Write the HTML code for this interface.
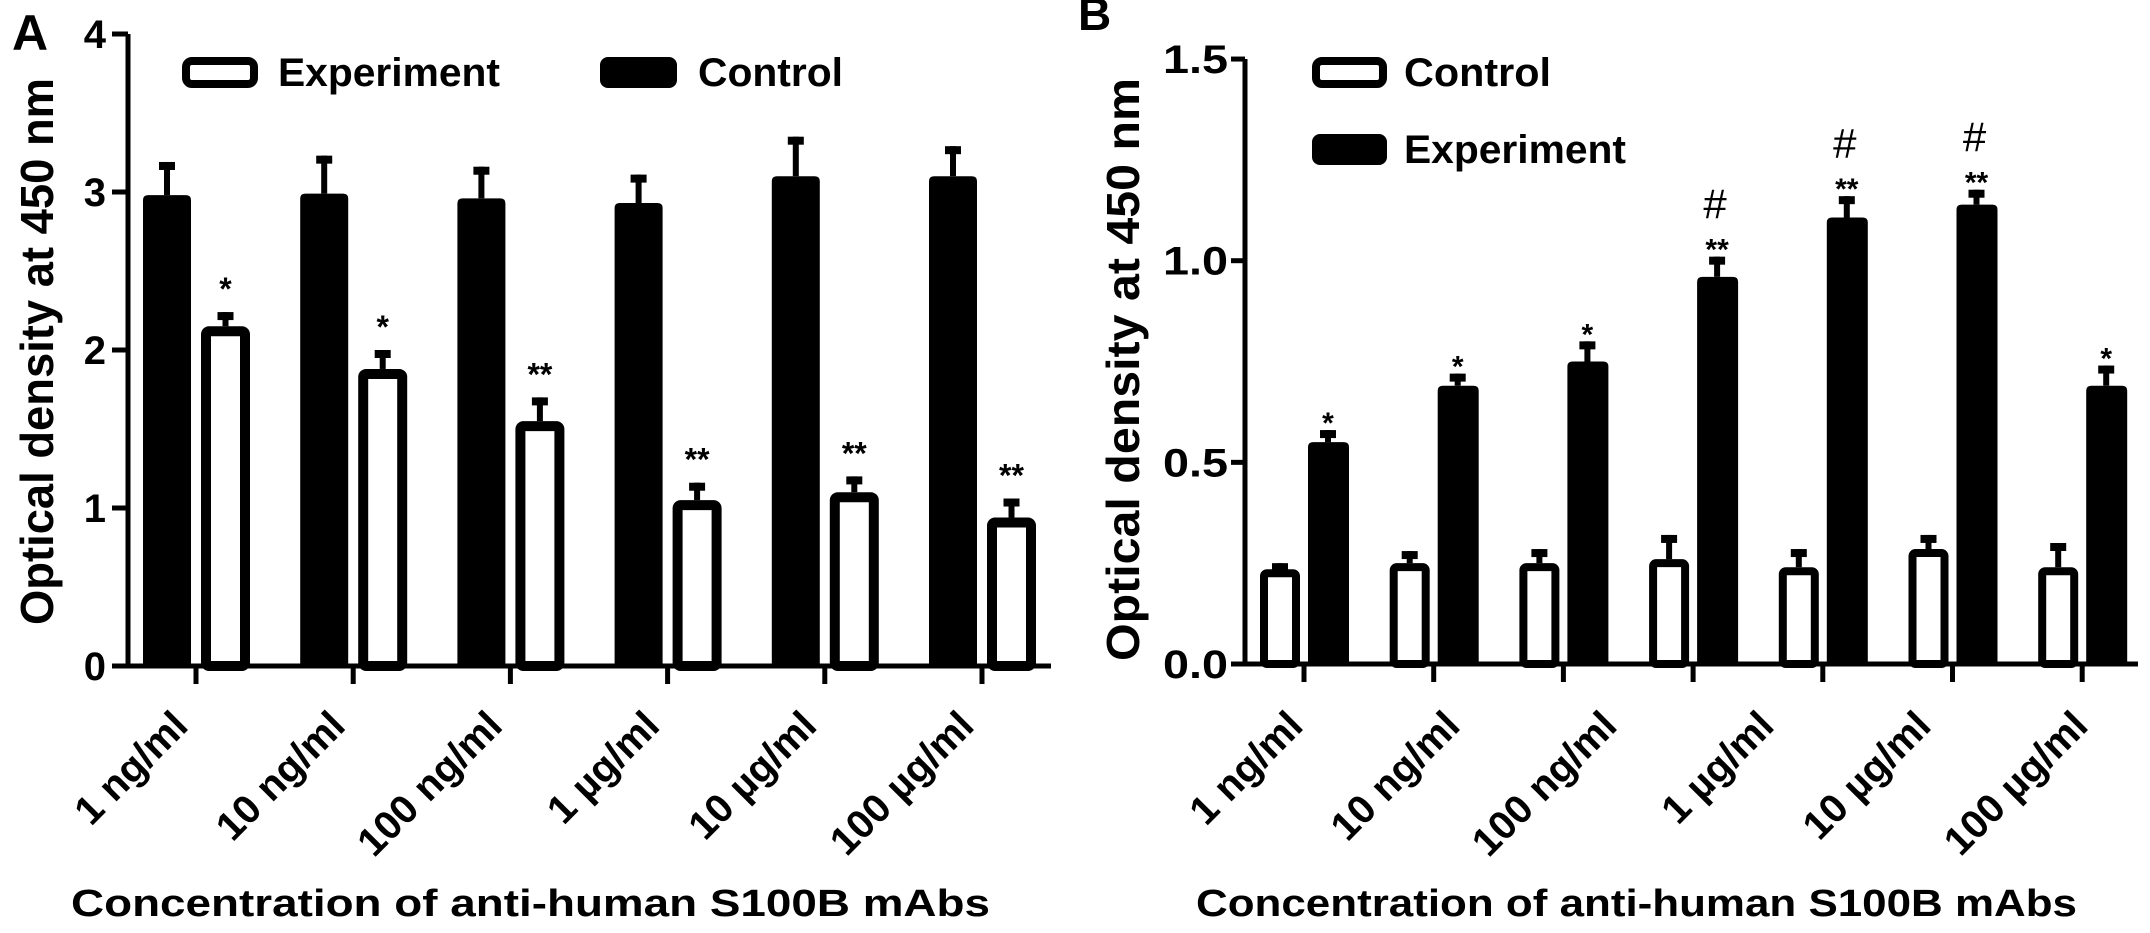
<!DOCTYPE html>
<html><head><meta charset="utf-8">
<style>
html,body{margin:0;padding:0;background:#fff;}
svg{display:block;font-family:"Liberation Sans",Arial,sans-serif;}
</style></head>
<body>
<svg id="fig" width="2150" height="933" viewBox="0 0 2150 933" xmlns="http://www.w3.org/2000/svg"></svg>
<script>
const NS="http://www.w3.org/2000/svg";
// Panel A data
const catsA=["1 ng/ml","10 ng/ml","100 ng/ml","1 µg/ml","10 µg/ml","100 µg/ml"];
const ctrlA=[2.98,2.99,2.96,2.93,3.10,3.10];
const ctrlErrA=[3.19,3.23,3.16,3.11,3.35,3.29];
const expA=[2.15,1.88,1.55,1.05,1.10,0.94];
const expErrA=[2.24,2.00,1.70,1.16,1.20,1.06];
const sigA=["*","*","**","**","**","**"];
const ticksA=[0,1,2,3,4];
const tickLabA=["0","1","2","3","4"];
// Panel B data
const catsB=["1 ng/ml","10 ng/ml","100 ng/ml","1 µg/ml","10 µg/ml","100 µg/ml"];
const ctrlB=[0.235,0.25,0.25,0.26,0.24,0.285,0.24];
const ctrlErrB=[0.25,0.28,0.285,0.32,0.285,0.32,0.30];
const expB=[0.55,0.69,0.75,0.96,1.107,1.139,0.69];
const expErrB=[0.58,0.72,0.80,1.01,1.16,1.176,0.74];
const sigB=["*","*","*","**","**","**","*"];
const hashB=["","","","#","#","#",""];
const ticksB=[0,0.5,1,1.5];
const tickLabB=["0.0","0.5","1.0","1.5"];

const svg=document.getElementById('fig');
function el(tag,attrs,parent){const e=document.createElementNS(NS,tag);for(const k in attrs)e.setAttribute(k,attrs[k]);(parent||svg).appendChild(e);return e;}
function txt(s,attrs,parent){const e=el('text',attrs,parent);e.textContent=s;return e;}

// axis functions
const A={x0:128,y0:666,unit:158,gx0:196,pitch:157.2,xEnd:1051};
const B={x0:1245,y0:664,unit:403.3,gx0:1304,pitch:129.7,xEnd:2138};
function yA(v){return A.y0-v*A.unit;}
function xA(i){return A.gx0+i*A.pitch;}
function yB(v){return B.y0-v*B.unit;}
function xB(i){return B.gx0+i*B.pitch;}

function errBar(g,cx,top,capY,name){
  const s=el('rect',{x:cx-3,y:capY,width:6,height:Math.max(0,top-capY)},g);
  
  const c=el('rect',{x:cx-8,y:capY,width:16,height:8,fill:'#000'},g);
  
}
function solidBar(g,x,w,y0,y,name){
  const r=el('path',{d:`M${x},${y0} L${x},${y+5} Q${x},${y} ${x+5},${y} L${x+w-5},${y} Q${x+w},${y} ${x+w},${y+5} L${x+w},${y0} Z`,fill:'#000'},g);
  
}
function hollowBar(g,x,w,y0,y,sw,name){
  const r=el('rect',{x:x+sw/2,y:y+sw/2,width:w-sw,height:y0-y-sw/2,fill:'#fff',stroke:'#000','stroke-width':sw,rx:3},g);
  
}

/* ---------- Panel A ---------- */
const gA=el('g',{});

const labA=txt('A',{x:12,y:50,'font-size':50,'font-weight':'bold'},gA);

const ytA=txt('Optical density at 450 nm',{x:0,y:0,'font-size':46,'font-weight':'bold',transform:'translate(53,625) rotate(-90)',textLength:547,lengthAdjust:'spacingAndGlyphs'},gA);

for(let i=0;i<catsA.length;i++){
  const cx=xA(i);
  errBar(gA,cx-29,yA(ctrlA[i]),yA(ctrlErrA[i]),'control-error-a-'+i);
  solidBar(gA,cx-53,48,A.y0,yA(ctrlA[i]),'bar-control-a-'+i);
  errBar(gA,cx+29.5,yA(expA[i]),yA(expErrA[i]),'experiment-error-a-'+i);
  hollowBar(gA,cx+5,49,A.y0,yA(expA[i]),10,'bar-experiment-a-'+i);
  const s=txt(sigA[i],{x:cx+29.5,y:yA(expErrA[i])-12,'font-size':32,'font-weight':'bold','text-anchor':'middle'},gA);
  
  const t=el('line',{x1:cx,y1:A.y0,x2:cx,y2:A.y0+18,stroke:'#000','stroke-width':5},gA);
  
  const l=txt(catsA[i],{x:0,y:0,'font-size':40,'font-weight':'bold','text-anchor':'end',transform:`translate(${cx-6},${728}) rotate(-45)`},gA);
  
}
const axA=el('path',{d:`M${A.x0},${yA(4)} L${A.x0},${A.y0} L${A.xEnd},${A.y0}`,fill:'none',stroke:'#000','stroke-width':5},gA);

for(let i=0;i<ticksA.length;i++){
  const y=yA(ticksA[i]);
  const t=el('line',{x1:A.x0-16,y1:y,x2:A.x0,y2:y,stroke:'#000','stroke-width':5},gA);
  
  const l=txt(tickLabA[i],{x:106,y:y+14,'font-size':40,'font-weight':'bold','text-anchor':'end'},gA);
  
}
const lgA1=el('rect',{x:186,y:61,width:68,height:23,rx:6,fill:'#fff',stroke:'#000','stroke-width':8},gA);

const lgA1t=txt('Experiment',{x:278,y:86,'font-size':40,'font-weight':'bold',textLength:222,lengthAdjust:'spacingAndGlyphs'},gA);

const lgA2=el('rect',{x:600,y:57,width:77,height:31,rx:8,fill:'#000'},gA);

const lgA2t=txt('Control',{x:698,y:86,'font-size':40,'font-weight':'bold',textLength:145,lengthAdjust:'spacingAndGlyphs'},gA);

const xtA=txt('Concentration of  anti-human S100B mAbs',{x:71,y:916,'font-size':38,'font-weight':'bold',textLength:919,lengthAdjust:'spacingAndGlyphs'},gA);


/* ---------- Panel B ---------- */
const gB=el('g',{});

const labB=txt('B',{x:1078,y:30,'font-size':46,'font-weight':'bold'},gB);

const ytB=txt('Optical density at 450 nm',{x:0,y:0,'font-size':46,'font-weight':'bold',transform:'translate(1139,661) rotate(-90)',textLength:583,lengthAdjust:'spacingAndGlyphs'},gB);

for(let i=0;i<ctrlB.length;i++){
  const cx=xB(i);
  errBar(gB,cx-24,yB(ctrlB[i]),yB(ctrlErrB[i]),'control-error-b-'+i);
  hollowBar(gB,cx-44,40,B.y0,yB(ctrlB[i]),8,'bar-control-b-'+i);
  errBar(gB,cx+24,yB(expB[i]),yB(expErrB[i]),'experiment-error-b-'+i);
  solidBar(gB,cx+4,41,B.y0,yB(expB[i]),'bar-experiment-b-'+i);
  const s=txt(sigB[i],{x:cx+24,y:yB(expErrB[i])+3,'font-size':30,'font-weight':'bold','text-anchor':'middle'},gB);
  
  if(hashB[i]){
    const h=txt(hashB[i],{x:cx+22,y:yB(expErrB[i])-38,'font-size':42,'text-anchor':'middle'},gB);
    
  }
  const t=el('line',{x1:cx,y1:B.y0,x2:cx,y2:B.y0+18,stroke:'#000','stroke-width':5},gB);
  
}
for(let i=0;i<catsB.length;i++){
  const lx=1319+i*157;
  const l=txt(catsB[i],{x:0,y:0,'font-size':40,'font-weight':'bold','text-anchor':'end',transform:`translate(${lx-14},${728}) rotate(-45)`},gB);
  
}
const axB=el('path',{d:`M${B.x0},${yB(1.5)} L${B.x0},${B.y0} L${B.xEnd},${B.y0}`,fill:'none',stroke:'#000','stroke-width':5},gB);

for(let i=0;i<ticksB.length;i++){
  const y=yB(ticksB[i]);
  const t=el('line',{x1:B.x0-14,y1:y,x2:B.x0,y2:y,stroke:'#000','stroke-width':5},gB);
  
  const l=txt(tickLabB[i],{x:1228,y:y+14,'font-size':40,'font-weight':'bold','text-anchor':'end',textLength:65,lengthAdjust:'spacingAndGlyphs'},gB);
  
}
const lgB1=el('rect',{x:1316,y:61,width:67,height:23,rx:6,fill:'#fff',stroke:'#000','stroke-width':8},gB);

const lgB1t=txt('Control',{x:1404,y:86,'font-size':40,'font-weight':'bold',textLength:147,lengthAdjust:'spacingAndGlyphs'},gB);

const lgB2=el('rect',{x:1312,y:134,width:75,height:31,rx:8,fill:'#000'},gB);

const lgB2t=txt('Experiment',{x:1404,y:163,'font-size':40,'font-weight':'bold',textLength:222,lengthAdjust:'spacingAndGlyphs'},gB);

const xtB=txt('Concentration of  anti-human S100B mAbs',{x:1196,y:916,'font-size':38,'font-weight':'bold',textLength:881,lengthAdjust:'spacingAndGlyphs'},gB);

</script>
</body></html>
